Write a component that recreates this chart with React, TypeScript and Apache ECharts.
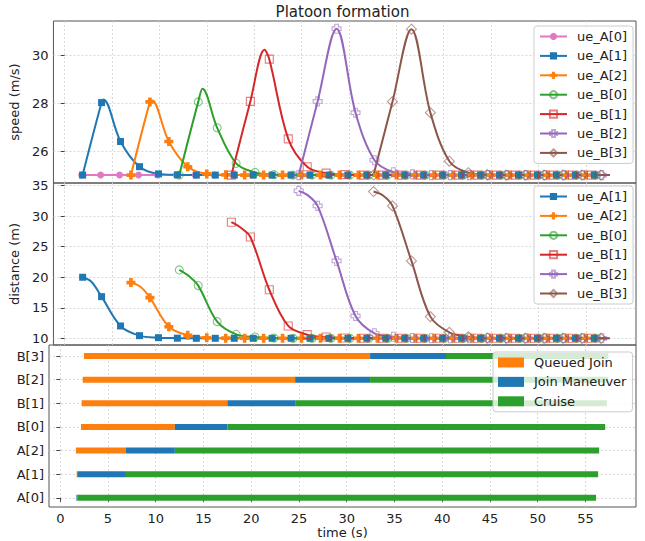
import React, { useEffect, useRef } from 'react';
import * as echarts from 'echarts';

// ---------- data ----------
const UE_NAMES = ['ue_A[0]', 'ue_A[1]', 'ue_A[2]', 'ue_B[0]', 'ue_B[1]', 'ue_B[2]', 'ue_B[3]'];
const UE_COLORS = ['#e377c2', '#1f77b4', '#ff7f0e', '#2ca02c', '#d62728', '#9467bd', '#8c564b'];

const T_A0 = [1.8, 3.8, 5.8, 7.8, 9.8, 11.8, 13.8, 15.8, 17.8, 19.8, 21.8, 23.8, 25.8, 27.8, 29.8, 31.8, 33.8, 35.8, 37.8, 39.8, 41.8, 43.8, 45.8, 47.8, 49.8, 51.8, 53.8, 55.8];
const T_A1 = [1.9, 3.9, 5.9, 7.9, 9.9, 11.9, 13.9, 15.9, 17.9, 19.9, 21.9, 23.9, 25.9, 27.9, 29.9, 31.9, 33.9, 35.9, 37.9, 39.9, 41.9, 43.9, 45.9, 47.9, 49.9, 51.9, 53.9, 55.9];
const T_A2 = [7.0, 9.0, 11.0, 13.0, 15.0, 17.0, 19.0, 21.0, 23.0, 25.0, 27.0, 29.0, 31.0, 33.0, 35.0, 37.0, 39.0, 41.0, 43.0, 45.0, 47.0, 49.0, 51.0, 53.0, 55.0];
const T_B0 = [12.1, 14.1, 16.1, 18.1, 20.1, 22.1, 24.1, 26.1, 28.1, 30.1, 32.1, 34.1, 36.1, 38.1, 40.1, 42.1, 44.1, 46.1, 48.1, 50.1, 52.1, 54.1, 56.1];
const T_B1 = [17.6, 19.6, 21.6, 23.6, 25.6, 27.6, 29.6, 31.6, 33.6, 35.6, 37.6, 39.6, 41.6, 43.6, 45.6, 47.6, 49.6, 51.6, 53.6, 55.6];
const T_B2 = [24.7, 26.7, 28.7, 30.7, 32.7, 34.7, 36.7, 38.7, 40.7, 42.7, 44.7, 46.7, 48.7, 50.7, 52.7, 54.7, 56.7];
const T_B3 = [32.6, 34.6, 36.6, 38.6, 40.6, 42.6, 44.6, 46.6, 48.6, 50.6, 52.6, 54.6, 56.6];

const S_A0 = [25, 25, 25, 25, 25, 25, 25, 25, 25, 25, 25, 25, 25, 25, 25, 25, 25, 25, 25, 25, 25, 25, 25, 25, 25, 25, 25, 25];
const S_A1 = [25, 28.02, 26.4, 25.35, 25.05, 25.01, 25, 25, 25, 25, 25, 25, 25, 25, 25, 25, 25, 25, 25, 25, 25, 25, 25, 25, 25, 25, 25, 25];
const S_A2 = [25, 28.05, 26.4, 25.35, 25.05, 25.01, 25, 25, 25, 25, 25, 25, 25, 25, 25, 25, 25, 25, 25, 25, 25, 25, 25, 25, 25];
const S_B0 = [25, 28.05, 26.97, 25.49, 25.11, 25.02, 25, 25, 25, 25, 25, 25, 25, 25, 25, 25, 25, 25, 25, 25, 25, 25, 25];
const S_B1 = [25, 28.07, 29.83, 26.51, 25.35, 25.08, 25.02, 25, 25, 25, 25, 25, 25, 25, 25, 25, 25, 25, 25, 25];
const S_B2 = [25, 28.07, 31.1, 27.6, 25.62, 25.12, 25.03, 25, 25, 25, 25, 25, 25, 25, 25, 25, 25];
const S_B3 = [25, 28.06, 31.08, 27.6, 25.58, 25.1, 25.02, 25, 25, 25, 25, 25, 25];

const D_A1 = [20.0, 16.82, 12.02, 10.43, 10.1, 10.02, 10, 10, 10, 10, 10, 10, 10, 10, 10, 10, 10, 10, 10, 10, 10, 10, 10, 10, 10, 10, 10, 10];
const D_A2 = [19.12, 16.66, 11.9, 10.49, 10.1, 10.02, 10, 10, 10, 10, 10, 10, 10, 10, 10, 10, 10, 10, 10, 10, 10, 10, 10, 10, 10];
const D_B0 = [21.2, 18.63, 12.73, 10.65, 10.2, 10.05, 10, 10, 10, 10, 10, 10, 10, 10, 10, 10, 10, 10, 10, 10, 10, 10, 10];
const D_B1 = [29.02, 26.6, 17.95, 12.02, 10.6, 10.2, 10.05, 10, 10, 10, 10, 10, 10, 10, 10, 10, 10, 10, 10, 10];
const D_B2 = [34.15, 31.69, 22.67, 13.66, 10.82, 10.25, 10.05, 10, 10, 10, 10, 10, 10, 10, 10, 10, 10];
const D_B3 = [34.04, 31.69, 22.67, 13.55, 10.98, 10.26, 10.05, 10, 10, 10, 10, 10, 10];

const SPEED_EXTRA_A1 = [[4.1, 28.15]];
const SPEED_EXTRA_A2 = [[9.2, 28.12]];
const SPEED_EXTRA_B0 = [[14.55, 28.6]];
const SPEED_EXTRA_B1 = [[21.1, 30.22]];
const DIST_EXTRA_A1 = [[2.8, 19.3]];
const DIST_EXTRA_A2 = [[8.0, 18.45]];
const DIST_EXTRA_B0 = [[13.1, 20.2]];
const DIST_EXTRA_B1 = [[18.6, 28.1]];
const DIST_EXTRA_B2 = [[25.6, 33.5]];
const DIST_EXTRA_B3 = [[33.6, 33.4]];

const END_T = [56.1, 56.3, 56.4, 57.1, 57.25, 57.35, 57.55];

const ROWS = ['A[0]', 'A[1]', 'A[2]', 'B[0]', 'B[1]', 'B[2]', 'B[3]'];
const QUEUED_START = [1.69, 1.72, 1.64, 2.17, 2.24, 2.35, 2.48];
const JOIN_START = [1.69, 1.78, 6.88, 12.0, 17.5, 24.6, 32.45];
const CRUISE_START = [1.78, 6.88, 12.0, 17.5, 24.6, 32.45, 40.4];
const STATE_END = [56.12, 56.33, 56.44, 57.07, 57.25, 57.35, 57.4];
const STATE_NAMES = ['Queued Join', 'Join Maneuver', 'Cruise'];
const STATE_COLORS = ['#ff7f0e', '#1f77b4', '#2ca02c'];

const X_TICKS = [0, 5, 10, 15, 20, 25, 30, 35, 40, 45, 50, 55];
const SPEED_TICKS = [26, 28, 30];
const DIST_TICKS = [10, 15, 20, 25, 30, 35];
const ROW_TICKS = [0, 1, 2, 3, 4, 5, 6];

const FONT = 'DejaVu Sans';
const FS = 13;
const TXT = '#222222';
const PLUS = 'path://M3,0H7V3H10V7H7V10H3V7H0V3H3Z';
const MARKERS = [
  { symbol: 'circle', size: 7, hollow: false },
  { symbol: 'rect', size: 7, hollow: false },
  { symbol: PLUS, size: 9, hollow: false },
  { symbol: 'circle', size: 8, hollow: true },
  { symbol: 'rect', size: 8, hollow: true },
  { symbol: PLUS, size: 9, hollow: true },
  { symbol: 'diamond', size: 10, hollow: true },
];

function hexA(hex: string, a: number) {
  const n = parseInt(hex.slice(1), 16);
  return `rgba(${(n >> 16) & 255},${(n >> 8) & 255},${n & 255},${a})`;
}

function buildData(times: number[], vals: number[], extra: number[][], endT: number) {
  const pts: any[] = times.map((t, i) => ({ value: [t, vals[i]] }));
  extra.forEach((p) => pts.push({ value: [p[0], p[1]], symbol: 'none' }));
  pts.push({ value: [endT, vals[vals.length - 1]], symbol: 'none' });
  pts.sort((a, b) => a.value[0] - b.value[0]);
  return pts;
}

function lineSeries(i: number, axis: number, data: any[]) {
  const m = MARKERS[i];
  const c = UE_COLORS[i];
  return {
    type: 'line',
    name: UE_NAMES[i],
    xAxisIndex: axis,
    yAxisIndex: axis,
    data,
    smooth: 0.35,
    symbol: m.symbol,
    symbolSize: m.size,
    showAllSymbol: true,
    lineStyle: { color: c, width: 2 },
    itemStyle: m.hollow
      ? { color: 'rgba(255,255,255,0)', borderColor: hexA(c, 0.6), borderWidth: 1.1 }
      : { color: c, borderWidth: 0 },
    emphasis: { disabled: true },
  };
}

function ganttSeries(state: number) {
  const starts = [QUEUED_START, JOIN_START, CRUISE_START][state];
  const ends = [JOIN_START, CRUISE_START, STATE_END][state];
  const data: number[][] = [];
  ROWS.forEach((_, r) => {
    if (ends[r] > starts[r]) data.push([r, starts[r], ends[r]]);
  });
  return {
    type: 'custom',
    name: STATE_NAMES[state],
    xAxisIndex: 2,
    yAxisIndex: 2,
    itemStyle: { color: STATE_COLORS[state] },
    encode: { x: [1, 2], y: 0 },
    data,
    renderItem: (params: any, api: any) => {
      const row = api.value(0);
      const a = api.coord([api.value(1), row]);
      const b = api.coord([api.value(2), row]);
      const h = 6;
      return {
        type: 'rect',
        shape: { x: a[0], y: a[1] - h / 2, width: b[0] - a[0], height: h },
        style: { fill: api.visual('color') },
      };
    },
  };
}

const gridLine = { show: true, lineStyle: { color: '#cfcfcf', type: [2, 2], width: 0.8 } };

function xAxis(i: number, labels: boolean) {
  return {
    type: 'value',
    gridIndex: i,
    min: -1.18,
    max: 60.3,
    axisLine: { show: false },
    axisTick: { show: labels, customValues: X_TICKS, length: 4, lineStyle: { color: '#444' } },
    axisLabel: {
      show: labels,
      customValues: X_TICKS,
      margin: 5,
      fontSize: FS,
      fontFamily: FONT,
      color: TXT,
    },
    splitLine: gridLine,
    name: labels ? 'time (s)' : '',
    nameLocation: 'middle',
    nameGap: 19,
    nameTextStyle: { fontSize: FS, fontFamily: FONT, color: TXT, verticalAlign: 'top' },
  };
}

function yAxis(i: number, min: number, max: number, ticks: number[], name: string, fmt?: (v: number) => string) {
  return {
    type: 'value',
    gridIndex: i,
    min,
    max,
    axisLine: { show: false },
    axisTick: { show: true, customValues: ticks, length: 4, lineStyle: { color: '#444' } },
    axisLabel: {
      customValues: ticks,
      margin: 5,
      fontSize: FS,
      fontFamily: FONT,
      color: TXT,
      formatter: fmt,
    },
    splitLine: gridLine,
    name,
    nameLocation: 'middle',
    nameGap: 22,
    nameTextStyle: { fontSize: FS, fontFamily: FONT, color: TXT },
  };
}

const legendBase = {
  orient: 'vertical',
  itemWidth: 27,
  itemHeight: 9,
  itemGap: 6.4,
  padding: [4, 6, 4, 5],
  backgroundColor: 'rgba(255,255,255,0.8)',
  borderColor: '#cccccc',
  borderWidth: 1,
  borderRadius: 3,
  selectedMode: false,
  textStyle: { fontSize: FS, fontFamily: FONT, color: TXT, padding: [0, 0, 0, 5] },
};

export default function App() {
  const ref = useRef<HTMLDivElement>(null);
  useEffect(() => {
    if (!ref.current) return;
    const chart = echarts.init(ref.current, null, { renderer: 'svg' });

    const times = [T_A0, T_A1, T_A2, T_B0, T_B1, T_B2, T_B3];
    const speeds = [S_A0, S_A1, S_A2, S_B0, S_B1, S_B2, S_B3];
    const speedExtra = [[], SPEED_EXTRA_A1, SPEED_EXTRA_A2, SPEED_EXTRA_B0, SPEED_EXTRA_B1, [], []];
    const dists = [null, D_A1, D_A2, D_B0, D_B1, D_B2, D_B3];
    const distExtra = [[], DIST_EXTRA_A1, DIST_EXTRA_A2, DIST_EXTRA_B0, DIST_EXTRA_B1, DIST_EXTRA_B2, DIST_EXTRA_B3];

    const series: any[] = [];
    for (let i = 0; i < 7; i++) {
      series.push(lineSeries(i, 0, buildData(times[i], speeds[i], speedExtra[i], END_T[i])));
    }
    for (let i = 1; i < 7; i++) {
      series.push(lineSeries(i, 1, buildData(times[i], dists[i] as number[], distExtra[i], END_T[i])));
    }
    for (let s = 0; s < 3; s++) series.push(ganttSeries(s));

    chart.setOption({
      animation: false,
      backgroundColor: '#ffffff',
      graphic: [
        {
          type: 'text',
          x: 342.5,
          y: 4,
          style: { text: 'Platoon formation', fontSize: 15, fontFamily: FONT, fill: TXT, textAlign: 'center' },
        },
      ],
      grid: [
        { left: 49, top: 21, width: 587, height: 162, show: true, borderColor: '#555', borderWidth: 1, backgroundColor: 'transparent' },
        { left: 49, top: 183, width: 587, height: 162, show: true, borderColor: '#555', borderWidth: 1, backgroundColor: 'transparent' },
        { left: 49, top: 345, width: 587, height: 162, show: true, borderColor: '#555', borderWidth: 1, backgroundColor: 'transparent' },
      ],
      xAxis: [xAxis(0, false), xAxis(1, false), xAxis(2, true)],
      yAxis: [
        yAxis(0, 24.67, 31.42, SPEED_TICKS, 'speed (m/s)'),
        yAxis(1, 8.9, 35.44, DIST_TICKS, 'distance (m)'),
        yAxis(2, -0.39, 6.47, ROW_TICKS, '', (v: number) => ROWS[Math.round(v)]),
      ],
      legend: [
        { ...legendBase, left: 534, top: 26, data: UE_NAMES },
        { ...legendBase, left: 534, top: 186, data: UE_NAMES.slice(1) },
        { ...legendBase, left: 493, top: 352, itemWidth: 26, itemHeight: 10, icon: 'rect', data: STATE_NAMES },
      ],
      series,
    });
    return () => chart.dispose();
  }, []);
  return <div ref={ref} style={{ width: 645, height: 541, position: 'absolute', left: 0, top: 0 }} />;
}
